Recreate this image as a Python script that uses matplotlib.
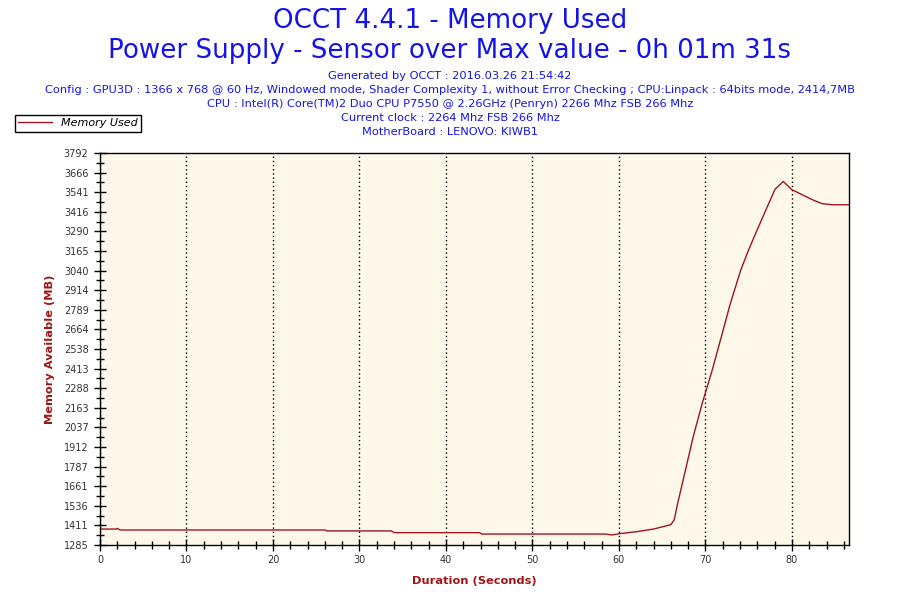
import matplotlib
matplotlib.use("Agg")
import matplotlib.pyplot as plt
from matplotlib.ticker import MultipleLocator, FixedLocator

# time (s) and memory (MB)
seconds = [0, 1.9, 2.0, 2.3, 26.0, 26.2, 33.7, 34.0, 43.9, 44.1, 58.5, 59.2,
           60.0, 62.0, 64.0, 66.0, 66.4, 66.8, 67.7, 68.6, 69.65, 70.8,
           71.85, 72.9, 74.1, 75.0, 75.9, 77.0, 78.05, 79.0, 80.0, 80.8, 81.6,
           82.5, 83.5, 84.7, 86.6]
memory = [1387, 1387, 1392, 1381, 1381, 1375, 1375, 1364, 1364, 1355, 1355, 1349,
          1357, 1370, 1387, 1415, 1447, 1554, 1766, 1980, 2195, 2406,
          2619, 2833, 3046, 3173, 3290, 3429, 3560, 3610, 3557, 3536, 3514,
          3490, 3468, 3461, 3461]

y_ticks = [1285, 1411, 1536, 1661, 1787, 1912, 2037, 2163, 2288, 2413, 2538,
           2664, 2789, 2914, 3040, 3165, 3290, 3416, 3541, 3666, 3792]

title_blue = "#1414e6"
dark_red = "#a01414"

fig = plt.figure(figsize=(9, 6), dpi=100)
ax = fig.add_axes([100 / 900, 1 - 545 / 600, 749 / 900, 392 / 600])
ax.set_facecolor("#fef8ea")

line, = ax.plot(seconds, memory, color="#a0141e", lw=1.0, label="Memory Used")

ax.set_xlim(0, 86.6)
ax.set_ylim(y_ticks[0], y_ticks[-1])
ax.xaxis.set_major_locator(MultipleLocator(10))
ax.xaxis.set_minor_locator(MultipleLocator(2))
ax.yaxis.set_major_locator(FixedLocator(y_ticks))
ax.set_yticklabels([str(v) for v in y_ticks])
mids = [(a + b) / 2 for a, b in zip(y_ticks[:-1], y_ticks[1:])]
ax.yaxis.set_minor_locator(FixedLocator(mids))

ax.tick_params(which="major", direction="inout", length=8.5, width=1,
               labelsize=7, labelcolor="#333333", color="black")
ax.tick_params(which="minor", direction="inout", length=6, width=1, color="black")
ax.tick_params(axis="x", pad=3)
ax.tick_params(axis="y", pad=4)
for s in ax.spines.values():
    s.set_color("black")
    s.set_linewidth(1)

ax.grid(axis="x", which="major", color="black", linestyle=(0, (1, 2)), lw=1)

ax.set_xlabel("Duration (Seconds)", color=dark_red, fontweight="bold",
              fontsize=8.2, labelpad=8)
ax.set_ylabel("Memory Available (MB)", color=dark_red, fontweight="bold",
              fontsize=8.2, labelpad=6)

fig.text(0.5, 1 - 21 / 600, "OCCT 4.4.1 - Memory Used", ha="center", va="center",
         color=title_blue, fontsize=18.8)
fig.text(0.5, 1 - 51 / 600, "Power Supply - Sensor over Max value - 0h 01m 31s",
         ha="center", va="center", color=title_blue, fontsize=18.8)

info_lines = [
    "Generated by OCCT : 2016.03.26 21:54:42",
    "Config : GPU3D : 1366 x 768 @ 60 Hz, Windowed mode, Shader Complexity 1, without Error Checking ; CPU:Linpack : 64bits mode, 2414,7MB",
    "CPU : Intel(R) Core(TM)2 Duo CPU P7550 @ 2.26GHz (Penryn) 2266 Mhz FSB 266 Mhz",
    "Current clock : 2264 Mhz FSB 266 Mhz",
    "MotherBoard : LENOVO: KIWB1",
]
for i, txt in enumerate(info_lines):
    fig.text(0.5, 1 - (76 + i * 14) / 600, txt, ha="center", va="center",
             color=title_blue, fontsize=8.2)

leg = fig.legend(handles=[line], loc="upper left",
                 bbox_to_anchor=(15 / 900, 1 - 115 / 600), frameon=True,
                 fancybox=False, edgecolor="black", framealpha=1,
                 prop={"style": "italic", "size": 8}, handlelength=3,
                 handletextpad=0.8, borderpad=0.3, borderaxespad=0)
leg.get_frame().set_linewidth(1)

fig.savefig("out.png", dpi=100)
